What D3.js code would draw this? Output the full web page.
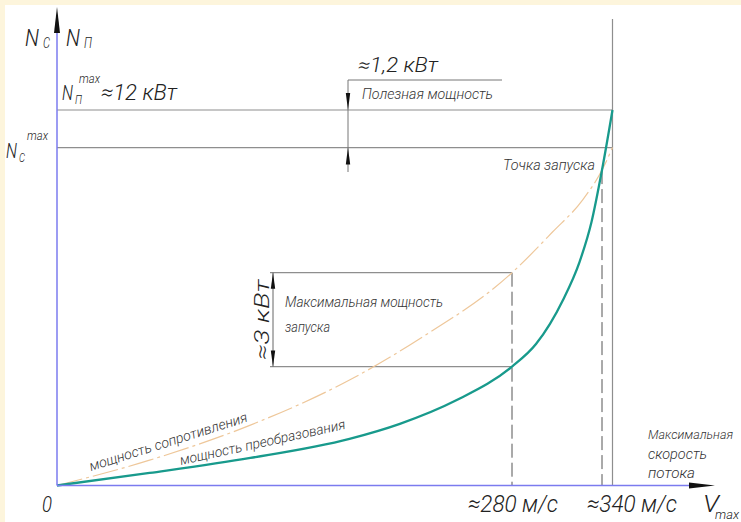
<!DOCTYPE html>
<html>
<head>
<meta charset="utf-8">
<script src="https://cdn.jsdelivr.net/npm/d3@7"></script>
<style>
  html, body { margin: 0; padding: 0; background: #fdf5dc; }
  svg { display: block; }
  text {
    font-family: Roboto, "DejaVu Sans", sans-serif;
    font-style: italic;
    font-weight: 300;
    fill: #222;
  }
</style>
</head>
<body>
<svg id="chart" width="741" height="522"></svg>
<script>
// Power of conversion (N_П), kW, against flow speed, m/s
const convSpeed = [0, 57, 119, 180, 211, 246, 280, 296, 314, 325, 333, 340, 347];
const convPower = [0, 0.40, 0.88, 1.49, 1.97, 2.73, 3.8, 4.52, 5.93, 7.14, 8.42, 10.08, 12];
// Power of resistance (N_C), kW, against flow speed, m/s
const dragSpeed = [0, 57, 119, 180, 222, 280, 307, 327, 340, 347];
const dragPower = [0, 0.81, 1.93, 3.37, 4.65, 6.8, 8.10, 9.12, 10.08, 10.8];
// Marked speeds and their labels
const speedMarks = [280, 340];
const speedLabels = ["≈280 м/с", "≈340 м/с"];
const maxSpeed = 347;
// Power levels, kW
const usefulMax = 12;     // N_П max
const dragMax = 10.8;     // N_C max
const usefulGap = 1.2;    // useful power
const launchGap = 3;      // maximum launch power

const svg = d3.select("#chart");
const W = 741, H = 522;

// schematic axis: the speed axis is not to scale between the marked speeds
const x = d3.scaleLinear().domain([0, speedMarks[0], speedMarks[1]]).range([57, 512, 602]);
const y = d3.scaleLinear().domain([0, usefulMax]).range([485.5, 110]);

const at = (speeds, powers, v) => powers[speeds.indexOf(v)];

// sheet
svg.append("rect").attr("x", 5).attr("y", 5).attr("width", W - 5).attr("height", H - 5).attr("fill", "#fff");

const thin = "#8e8e8e";
const g = svg.append("g");

// power levels
[usefulMax, dragMax].forEach(p => {
  g.append("line").attr("x1", x(0)).attr("x2", x(maxSpeed))
    .attr("y1", y(p)).attr("y2", y(p))
    .attr("stroke", thin).attr("stroke-width", 1.2);
});

// maximum flow speed
g.append("line").attr("x1", x(maxSpeed)).attr("x2", x(maxSpeed))
  .attr("y1", 19).attr("y2", y(0)).attr("stroke", thin).attr("stroke-width", 1.2);

// dashed verticals at marked speeds
speedMarks.forEach(v => {
  g.append("line").attr("x1", x(v)).attr("x2", x(v))
    .attr("y1", y(at(dragSpeed, dragPower, v))).attr("y2", y(0))
    .attr("stroke", "#555").attr("stroke-width", 1).attr("stroke-dasharray", "14,5");
});

// launch power box
const launchTop = at(dragSpeed, dragPower, speedMarks[0]);
const launchBot = launchTop - launchGap;
const dimX = 273;
[launchTop, launchBot].forEach(p => {
  g.append("line").attr("x1", dimX - 3).attr("x2", x(speedMarks[0]))
    .attr("y1", y(p)).attr("y2", y(p)).attr("stroke", thin).attr("stroke-width", 1.2);
});

function arrow(px, py, dir, len, half, fill) {
  let pts;
  if (dir === "up") pts = [[px, py], [px - half, py + len], [px + half, py + len]];
  else if (dir === "down") pts = [[px, py], [px - half, py - len], [px + half, py - len]];
  else pts = [[px, py], [px - len, py - half], [px - len, py + half]];
  g.append("path").attr("d", "M" + pts.join("L") + "Z").attr("fill", fill || "#111");
}

g.append("line").attr("x1", dimX).attr("x2", dimX).attr("y1", y(launchTop)).attr("y2", y(launchBot))
  .attr("stroke", "#666").attr("stroke-width", 1);
arrow(dimX, y(launchTop), "up", 16, 2.2);
arrow(dimX, y(launchBot), "down", 16, 2.2);

// useful power dimension
const dim2X = 348;
g.append("line").attr("x1", dim2X).attr("x2", dim2X).attr("y1", 80).attr("y2", 172)
  .attr("stroke", "#777").attr("stroke-width", 1);
g.append("line").attr("x1", dim2X).attr("x2", 502).attr("y1", 80).attr("y2", 80)
  .attr("stroke", "#777").attr("stroke-width", 1);
arrow(dim2X, y(usefulMax), "down", 17, 2.2);
arrow(dim2X, y(usefulMax - usefulGap), "up", 17, 2.2);

// curves
const line = d3.line().x(d => x(d[0])).y(d => y(d[1])).curve(d3.curveMonotoneX);
g.append("path").datum(d3.zip(dragSpeed, dragPower)).attr("d", line)
  .attr("fill", "none").attr("stroke", "#eec79a").attr("stroke-width", 1.2)
  .attr("stroke-dasharray", "26,4,3,4");
g.append("path").datum(d3.zip(convSpeed, convPower)).attr("d", line)
  .attr("fill", "none").attr("stroke", "#189a8c").attr("stroke-width", 2.3);

// axes
const axisBlue = "#7b7bef";
g.append("line").attr("x1", x(0)).attr("x2", 690).attr("y1", y(0)).attr("y2", y(0))
  .attr("stroke", axisBlue).attr("stroke-width", 1.5);
g.append("line").attr("x1", x(0)).attr("x2", x(0)).attr("y1", y(0)).attr("y2", 30)
  .attr("stroke", axisBlue).attr("stroke-width", 1.5);
arrow(715, y(0), "right", 26, 3);
arrow(x(0), 7, "up", 26, 3);

// text helper: width fixes the drawn length of the string
function txt(px, py, str, size, opts) {
  opts = opts || {};
  const t = g.append("text").attr("x", px).attr("y", py).attr("font-size", size).text(str);
  if (opts.anchor) t.attr("text-anchor", opts.anchor);
  if (opts.width) t.attr("textLength", opts.width).attr("lengthAdjust", "spacingAndGlyphs");
  if (opts.rotate !== undefined) t.attr("transform", `rotate(${opts.rotate},${px},${py})`);
  if (opts.fill) t.style("fill", opts.fill);
  return t;
}

// axis symbols
txt(25, 46, "N", 24, { width: 14 });
txt(43, 48, "C", 15, { width: 7 });
txt(66, 46, "N", 24, { width: 14 });
txt(84, 48, "П", 15, { width: 8 });

// N_П max ≈ 12 кВт
txt(62, 100, "N", 21, { width: 11 });
txt(75, 104, "П", 12, { width: 7 });
txt(79, 83, "max", 12, { width: 21 });
txt(101, 100, "≈12 кВт", 22, { width: 76 });

// N_C max
txt(6, 158, "N", 21, { width: 11 });
txt(19, 162, "C", 12, { width: 6 });
txt(27, 140, "max", 12, { width: 21 });

// useful power
txt(358, 72, "≈1,2 кВт", 20, { width: 80 });
txt(362, 99, "Полезная мощность", 15, { width: 131, fill: "#333" });
txt(595, 170, "Точка запуска", 15, { anchor: "end", width: 92, fill: "#333" });

// launch power
txt(269, y((launchTop + launchBot) / 2), "≈3 кВт", 20, { anchor: "middle", rotate: -90, width: 80 });
txt(285, 307, "Максимальная мощность", 15, { width: 158, fill: "#333" });
txt(285, 332, "запуска", 15, { width: 45, fill: "#333" });

// curve names
txt(91, 471, "мощность сопротивления", 14, { rotate: -17.5, width: 165, fill: "#333" });
txt(181, 465, "мощность преобразования", 14, { rotate: -12.4, width: 169, fill: "#333" });

// max flow speed
txt(648, 439, "Максимальная", 13, { width: 85, fill: "#333" });
txt(648, 459, "скорость", 14, { width: 59, fill: "#333" });
txt(648, 478, "потока", 14, { width: 47, fill: "#333" });

// speed labels: the first sits centred on its mark, the second starts just left of it
txt(42, 512, "0", 22, { width: 10 });
const labelStart = [x(speedMarks[0]) - 44, x(speedMarks[1]) - 15];
speedMarks.forEach((v, i) => txt(labelStart[i], 512, speedLabels[i], 24, { width: 90 }));
txt(703, 512, "V", 24, { width: 16 });
txt(715, 519, "max", 13, { width: 24 });
</script>
</body>
</html>
